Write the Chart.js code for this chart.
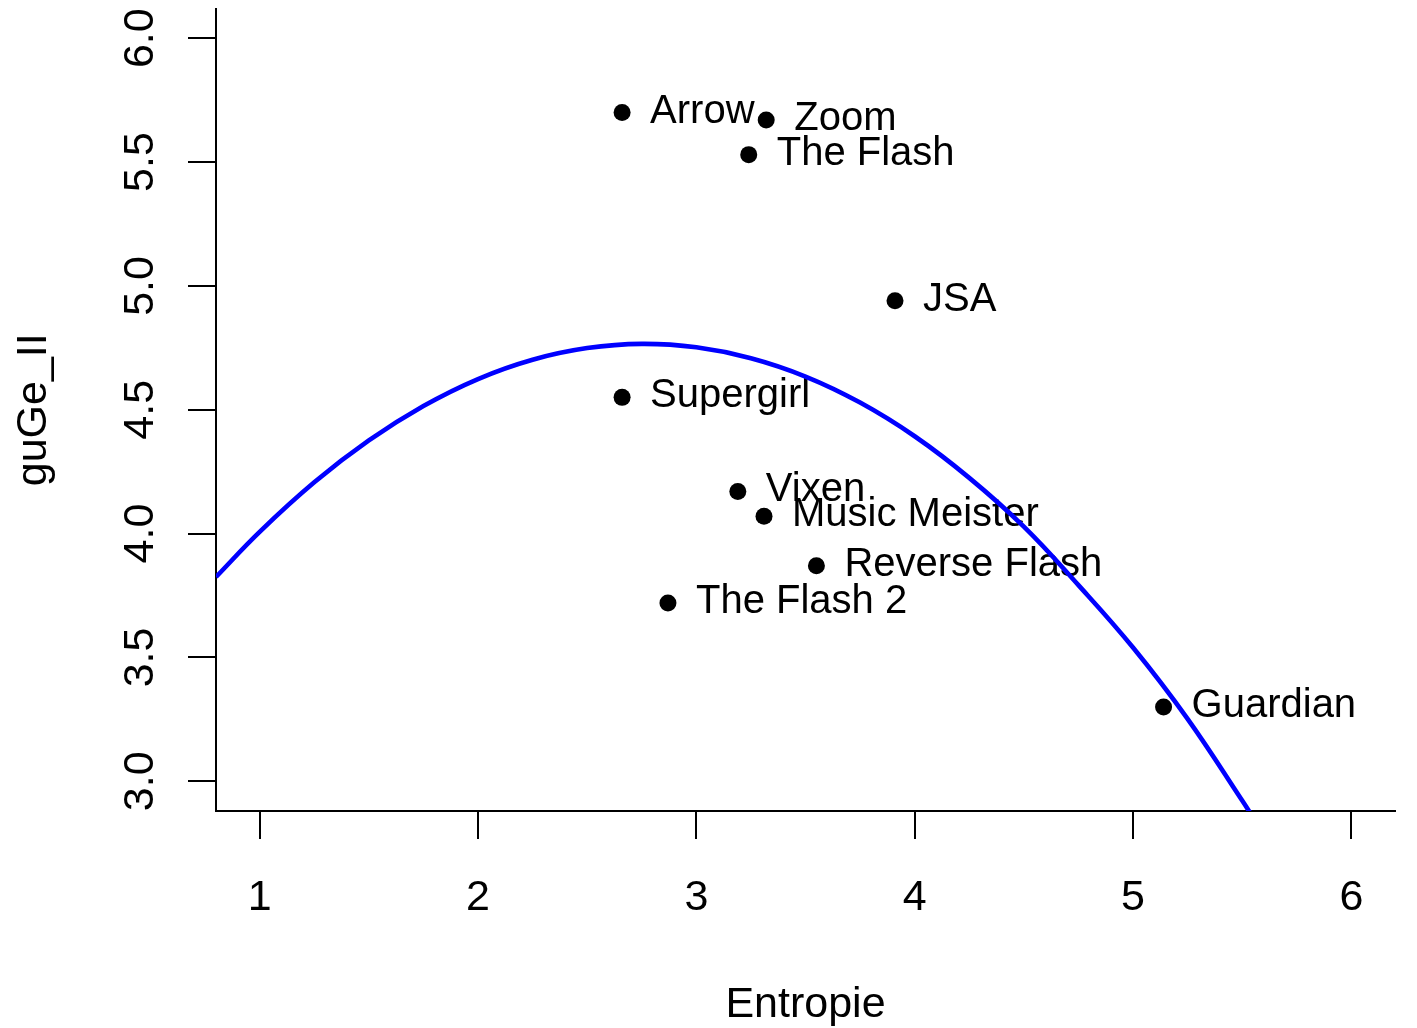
<!DOCTYPE html>
<html>
<head>
<meta charset="utf-8">
<title>guGe_II vs Entropie</title>
<script src="https://cdn.jsdelivr.net/npm/chart.js@4/dist/chart.umd.min.js"></script>
<style>
  html, body { margin: 0; padding: 0; background: #fff; }
  canvas { display: block; }
</style>
</head>
<body>
<canvas id="plot" width="1417" height="1028"></canvas>
<script>
/* ---- data ---- */
const names    = ['Arrow', 'Zoom', 'The Flash', 'JSA', 'Supergirl', 'Vixen', 'Music Meister', 'Reverse Flash', 'The Flash 2', 'Guardian'];
const entropie = [2.66, 3.32, 3.24, 3.91, 2.66, 3.19, 3.31, 3.55, 2.87, 5.14];
const guge     = [5.70, 5.67, 5.53, 4.94, 4.55, 4.17, 4.07, 3.87, 3.72, 3.30];

// fitted curve, every 0.25
const curveX = [0.80, 1.00, 1.25, 1.50, 1.75, 2.00, 2.25, 2.50, 2.75, 3.00, 3.25, 3.50, 3.75, 4.00, 4.25, 4.50, 4.75, 5.00, 5.25, 5.50, 5.60];
const curveY = [3.825, 4.007, 4.207, 4.376, 4.515, 4.624, 4.702, 4.749, 4.766, 4.752, 4.708, 4.634, 4.529, 4.393, 4.225, 4.028, 3.792, 3.540, 3.252, 2.922, 2.785];

const xTicks = [1, 2, 3, 4, 5, 6];
const yTicks = [3.0, 3.5, 4.0, 4.5, 5.0, 5.5, 6.0];
const yTickLabels = ['3.0', '3.5', '4.0', '4.5', '5.0', '5.5', '6.0'];

const FONT = '"Liberation Sans", Arial, Helvetica, sans-serif';

/* ---- text drawn R-style ---- */
const rText = {
  id: 'rText',
  afterDatasetDraw(chart, args) {
    if (args.index !== 0) return;   // labels go right after the points, under the curve
    const { ctx, scales: { x, y } } = chart;
    ctx.save();
    ctx.fillStyle = '#000';
    ctx.font = '40px ' + FONT;
    ctx.textAlign = 'left';
    ctx.textBaseline = 'alphabetic';
    names.forEach((n, i) => {
      ctx.fillText(n, x.getPixelForValue(entropie[i]) + 28, y.getPixelForValue(guge[i]) + 10);
    });
    ctx.restore();
  },
  afterDraw(chart) {
    const { ctx, chartArea, scales: { x, y } } = chart;
    ctx.save();
    ctx.fillStyle = '#000';
    ctx.font = '43px ' + FONT;
    ctx.textBaseline = 'alphabetic';
    ctx.textAlign = 'center';

    // x tick labels
    xTicks.forEach(v => ctx.fillText(String(v), x.getPixelForValue(v), 910));

    // y tick labels, parallel to the axis
    yTicks.forEach((v, i) => {
      ctx.save();
      ctx.translate(153, y.getPixelForValue(v));
      ctx.rotate(-Math.PI / 2);
      ctx.fillText(yTickLabels[i], 0, 0);
      ctx.restore();
    });

    // axis titles
    ctx.fillText('Entropie', (chartArea.left + chartArea.right) / 2, 1017);
    ctx.save();
    ctx.translate(46, (chartArea.top + chartArea.bottom) / 2);
    ctx.rotate(-Math.PI / 2);
    ctx.fillText('guGe_II', 0, 0);
    ctx.restore();

    ctx.restore();
  }
};

const axisLook = {
  ticks: { display: false },
  grid: { display: true, drawOnChartArea: false, drawTicks: true, tickLength: 28, color: '#000', lineWidth: 2 },
  border: { display: true, color: '#000', width: 2 },
};

new Chart(document.getElementById('plot'), {
  type: 'scatter',
  data: {
    datasets: [
      {
        label: 'Serien',
        data: entropie.map((v, i) => ({ x: v, y: guge[i] })),
        pointRadius: 8.5,
        pointBackgroundColor: '#000',
        pointBorderWidth: 0,
        showLine: false,
        order: 2,
      },
      {
        label: 'Fit',
        data: curveX.map((v, i) => ({ x: v, y: curveY[i] })),
        showLine: true,
        borderColor: '#0000ff',
        borderWidth: 4.6,
        pointRadius: 0,
        tension: 0.4,
        fill: false,
        order: 1,
      },
    ],
  },
  options: {
    responsive: false,
    animation: false,
    events: [],
    layout: { padding: { left: 0, top: 8, right: 22, bottom: 0 } },
    plugins: { legend: { display: false }, tooltip: { enabled: false } },
    scales: {
      x: {
        type: 'linear', position: 'bottom', min: 0.8, max: 6.2,
        afterBuildTicks: s => { s.ticks = xTicks.map(v => ({ value: v })); },
        afterFit: s => { s.height = 217; },
        ...axisLook,
      },
      y: {
        type: 'linear', position: 'left', min: 2.88, max: 6.12,
        afterBuildTicks: s => { s.ticks = yTicks.map(v => ({ value: v })); },
        afterFit: s => { s.width = 216; },
        ...axisLook,
      },
    },
  },
  plugins: [rText],
});
</script>
</body>
</html>
